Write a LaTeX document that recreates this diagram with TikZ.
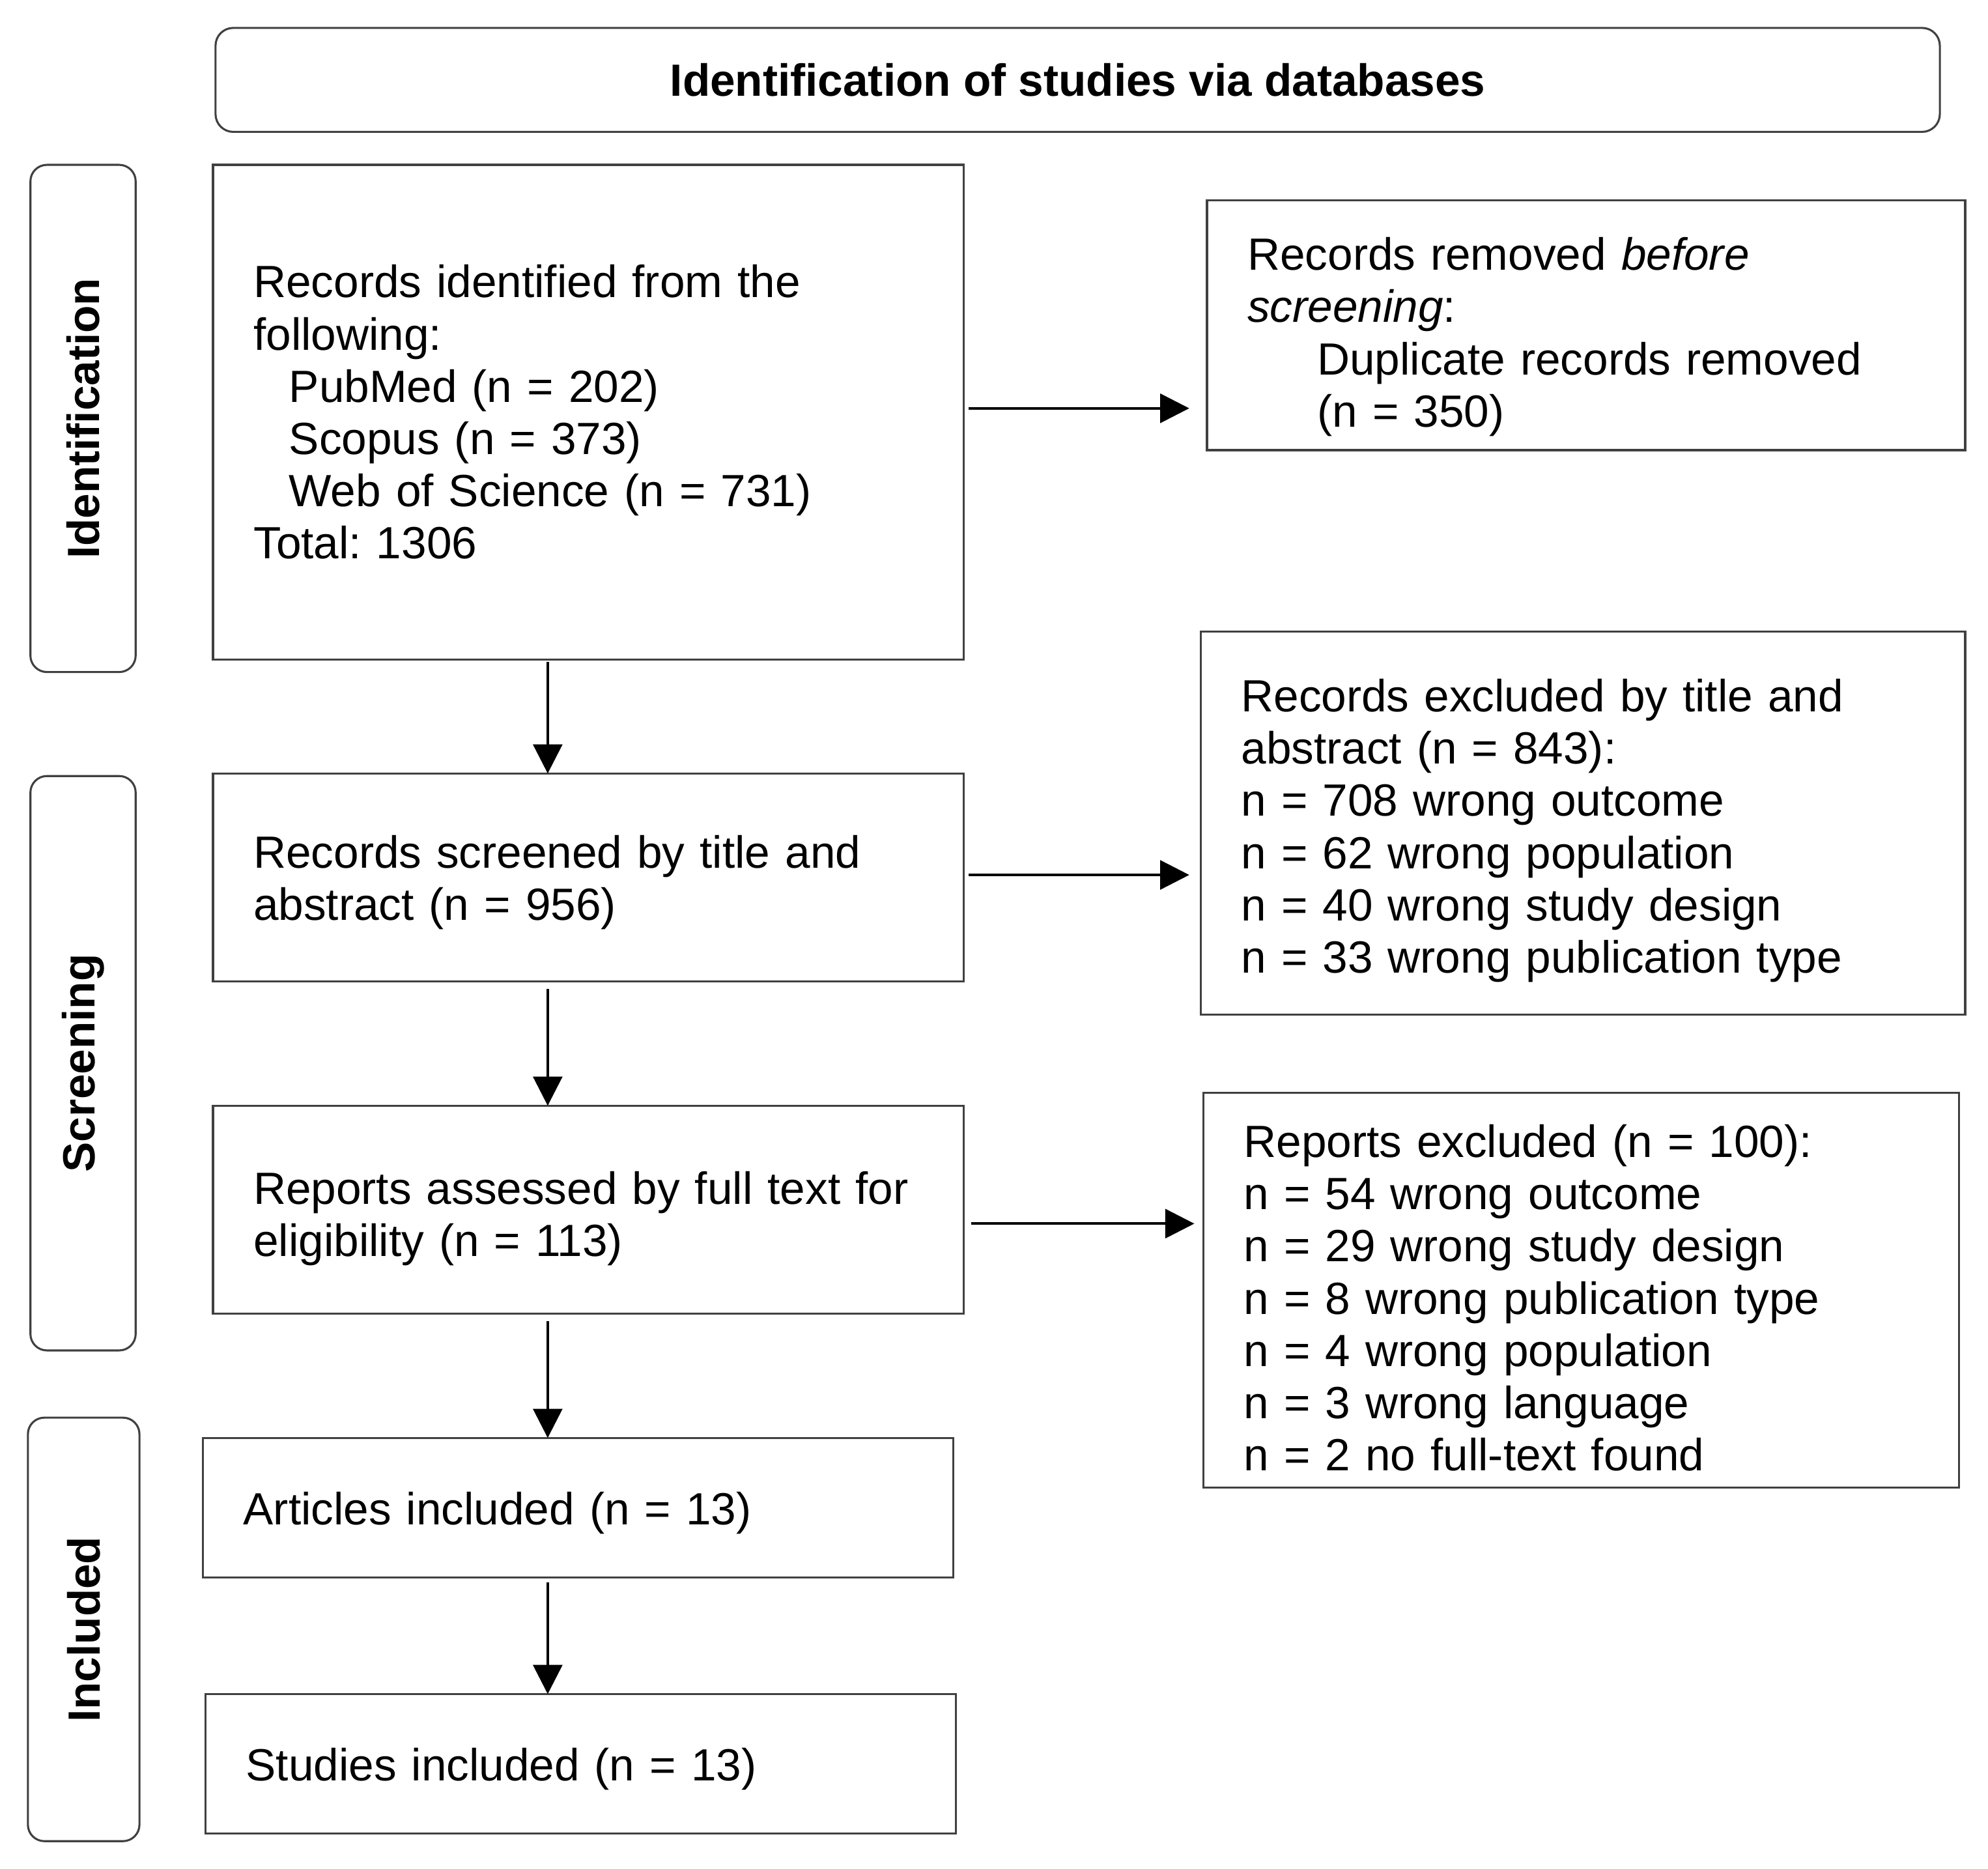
\documentclass[tikz,border=0pt]{standalone}
\usepackage{fontspec}
\setmainfont{Liberation Sans}
\usetikzlibrary{arrows.meta}
\frenchspacing
\begin{document}
\begin{tikzpicture}[x=0.5pt,y=-0.5pt,
  font=\fontsize{17.8pt}{20.6pt}\selectfont,
  box/.style={draw=black!75, line width=0.8pt, rectangle, inner xsep=16pt, inner ysep=0pt,
    outer sep=0pt, align=left, anchor=north west},
  rbox/.style={draw=black!75, line width=0.8pt, rectangle, rounded corners=7pt, inner sep=0pt,
    outer sep=0pt, font=\fontsize{17.8pt}{20.6pt}\selectfont\bfseries},
  arr/.style={draw=black, line width=1pt, -{Triangle[length=11.5pt,width=11.5pt]}}
]
\useasboundingbox (0,0) rectangle (1568,1473.5);

% title
\node[rbox, minimum width=680pt, minimum height=41pt] (title) at (850,63) {Identification of studies via databases};

% side labels
\node[rbox, rotate=90, minimum width=200pt, minimum height=41.5pt, rounded corners=6.5pt] (s1) at (65.5,330) {Identification};
\node[rbox, rotate=90, minimum width=226.5pt, minimum height=41.5pt, rounded corners=6.5pt] (s2) at (65.5,838.5) {Screening};
\node[rbox, rotate=90, minimum width=167pt, minimum height=44pt, rounded corners=6.5pt] (s3) at (66,1285) {Included};

% main boxes
\node[box, text width=264pt, minimum height=195pt] (b1) at (168,130) {Records identified from the\\following:\\\hspace*{14pt}PubMed (n = 202)\\\hspace*{14pt}Scopus (n = 373)\\\hspace*{14pt}Web of Science (n = 731)\\Total: 1306};
\node[box, text width=267pt, minimum height=98.5pt] (b2) at (952,158) {\rule{0pt}{22pt}Records removed \textit{before}\\\textit{screening}:\\\hspace*{27.5pt}Duplicate records removed\\\hspace*{27.5pt}(n = 350)};
\node[box, text width=264pt, minimum height=82pt] (b3) at (168,610) {\rule{0pt}{17pt}Records screened by title and\\abstract (n = 956)};
\node[box, text width=269.5pt, minimum height=151pt] (b4) at (947,498) {\rule{0pt}{19pt}Records excluded by title and\\abstract (n = 843):\\n = 708 wrong outcome\\n = 62 wrong population\\n = 40 wrong study design\\n = 33 wrong publication type};
\node[box, text width=264pt, minimum height=82pt] (b5) at (168,872) {\rule{0pt}{20pt}Reports assessed by full text for\\eligibility (n = 113)};
\node[box, text width=266pt, minimum height=155.5pt] (b6) at (949,862) {\rule{0pt}{19pt}Reports excluded (n = 100):\\n = 54 wrong outcome\\n = 29 wrong study design\\n = 8 wrong publication type\\n = 4 wrong population\\n = 3 wrong language\\n = 2 no full-text found};
\node[box, text width=264pt, minimum height=55pt] (b7) at (160,1134) {\rule{0pt}{17pt}Articles included (n = 13)};
\node[box, text width=264pt, minimum height=55pt] (b8) at (162,1336) {\rule{0pt}{17pt}Studies included (n = 13)};

% arrows
\coordinate (ax) at (432,0);
\draw[arr, shorten <=1pt] (b1.south -| ax) -- (b3.north -| ax);
\draw[arr, shorten <=3pt] (b3.south -| ax) -- (b5.north -| ax);
\draw[arr, shorten <=3pt] (b5.south -| ax) -- (b7.north -| ax);
\draw[arr, shorten <=2pt] (b7.south -| ax) -- (b8.north -| ax);

\draw[arr, shorten <=2pt, shorten >=7pt] ([yshift=1.5pt]b1.east) -- ([yshift=1.5pt]b1.east -| b2.west);
\draw[arr, shorten <=2pt, shorten >=4.5pt] ([yshift=1pt]b3.east) -- ([yshift=1pt]b3.east -| b4.west);
\draw[arr, shorten <=3pt, shorten >=3.5pt] ([yshift=-5.5pt]b5.east) -- ([yshift=-5.5pt]b5.east -| b6.west);
\end{tikzpicture}
\end{document}
